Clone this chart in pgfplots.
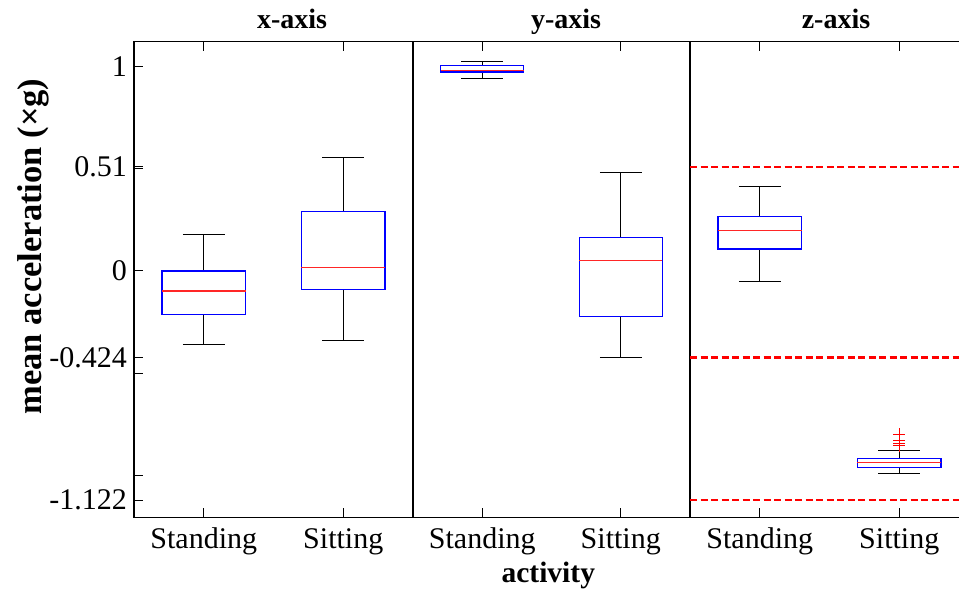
\documentclass[border=0pt]{standalone}
\usepackage{pgfplots}
\pgfplotsset{compat=1.18}
\usepgfplotslibrary{statistics}
\usepackage{fontspec}
\setmainfont{Liberation Serif}

\pgfplotsset{
  panel/.style={
    scale only axis,
    height=475.6pt,
    xmin=0.5, xmax=2.5, ymin=-1.2056, ymax=1.122,
    enlargelimits=false,
    xtick={1,2}, xticklabels={Standing,Sitting},
    tick align=inside, xtick pos=both,
    major tick length=9pt,
    axis line style={line width=1.2pt},
    every tick/.style={black, line width=1pt},
    xticklabel style={font=\fontsize{30}{36}\selectfont, anchor=base, inner sep=0pt, yshift=-31pt},
    boxplot/draw direction=y,
    boxplot/every box/.style={draw=blue, line width=1.3pt},
    boxplot/every median/.style={draw=red!85, line width=1.3pt},
    boxplot/every whisker/.style={draw=black, line width=1pt},
    clip=false,
  },
  bx/.style={boxplot prepared={#1, box extend=0.6, whisker extend=0.3}},
  thr/.style={red, line width=2.4pt, dash pattern=on 7pt off 3.5pt},
}

\begin{document}
\begin{tikzpicture}
\useasboundingbox (0,0) rectangle (959pt,589pt);
\clip (0,0) rectangle (959pt,589pt);

% x-axis
\begin{axis}[panel, width=279pt, at={(134pt,71.7pt)}, anchor=south west,
  ytick={-1.122,-1,-0.5,-0.424,0,0.5,0.51,1},
  yticklabels={-1.122,,,-0.424,0,,0.51,1},
  ytick pos=left,
  yticklabel style={font=\fontsize{30}{36}\selectfont, anchor=east, inner sep=0pt, xshift=-7pt}]
\addplot[bx={draw position=1, lower whisker=-0.359, lower quartile=-0.212, median=-0.098, upper quartile=0.000, upper whisker=0.176}] coordinates {};
\addplot[bx={draw position=2, lower whisker=-0.339, lower quartile=-0.090, median=0.018, upper quartile=0.290, upper whisker=0.553}] coordinates {};
\end{axis}

% y-axis
\begin{axis}[panel, width=277pt, at={(413pt,71.7pt)}, anchor=south west, ytick=\empty]
\addplot[bx={draw position=1, lower whisker=0.943, lower quartile=0.974, median=0.980, upper quartile=1.007, upper whisker=1.025}] coordinates {};
\addplot[bx={draw position=2, lower whisker=-0.422, lower quartile=-0.224, median=0.050, upper quartile=0.165, upper whisker=0.483}] coordinates {};
\end{axis}

% z-axis, with the decision thresholds
\begin{axis}[panel, width=279pt, at={(690pt,71.7pt)}, anchor=south west, ytick=\empty]
\addplot[thr] coordinates {(0.5,0.51) (2.5,0.51)};
\addplot[thr] coordinates {(0.5,-0.424) (2.5,-0.424)};
\addplot[thr] coordinates {(0.5,-1.122) (2.5,-1.122)};
\addplot[bx={draw position=1, lower whisker=-0.052, lower quartile=0.108, median=0.197, upper quartile=0.266, upper whisker=0.413}] coordinates {};
\addplot[bx={draw position=2, lower whisker=-0.990, lower quartile=-0.963, median=-0.938, upper quartile=-0.919, upper whisker=-0.881},
  mark=+, mark size=6pt, mark options={draw=red, line width=1pt}]
  coordinates {(2,-0.799) (2,-0.832) (2,-0.843) (2,-0.855)};
\end{axis}

% titles and axis labels
\node[font=\fontsize{28}{32}\selectfont\bfseries, anchor=base] at (292pt,560.5pt) {x-axis};
\node[font=\fontsize{28}{32}\selectfont\bfseries, anchor=base] at (566pt,560.5pt) {y-axis};
\node[font=\fontsize{28}{32}\selectfont\bfseries, anchor=base] at (836pt,560.5pt) {z-axis};
\node[font=\fontsize{29.5}{34}\selectfont\bfseries, anchor=base] at (548.3pt,6pt) {activity};
\node[font=\fontsize{34.5}{40}\selectfont\bfseries, anchor=base, rotate=90] at (42pt,342.5pt) {mean acceleration (×g)};
\end{tikzpicture}
\end{document}
